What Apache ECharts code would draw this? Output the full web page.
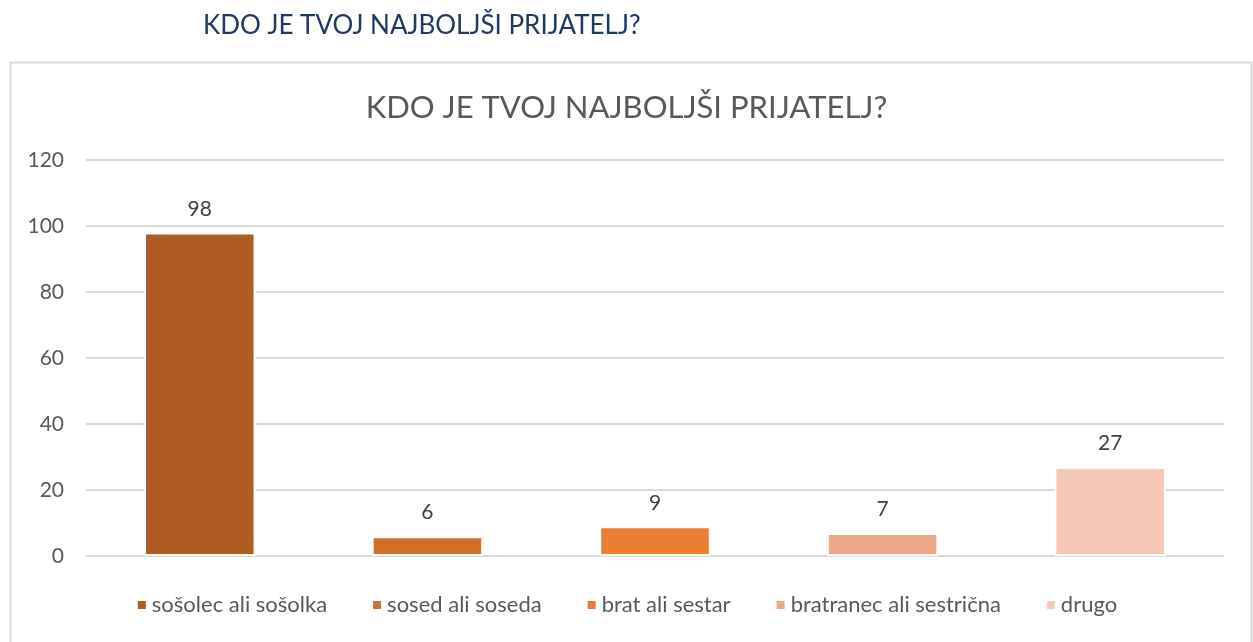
<!DOCTYPE html>
<html>
<head>
<meta charset="utf-8">
<script src="https://cdn.jsdelivr.net/npm/echarts@6/dist/echarts.min.js"></script>
<style>
  html, body { margin: 0; padding: 0; background: #fff; }
  #chart { width: 1253px; height: 642px; }
</style>
</head>
<body>
<div id="chart"></div>
<script>
// podatki
const categories = ['sošolec ali sošolka', 'sosed ali soseda', 'brat ali sestar', 'bratranec ali sestrična', 'drugo'];
const values = [98, 6, 9, 7, 27];
const yTicks = [0, 20, 40, 60, 80, 100, 120];

const colors = ['#B05B22', '#D26E2A', '#ED7D31', '#F1A78A', '#F5C8B8'];
const font = 'Lato, "Open Sans", sans-serif';

const chart = echarts.init(document.getElementById('chart'));

// vsaka kategorija je svoja serija, da jo kaže legenda
const series = categories.map((name, i) => ({
  name: name,
  type: 'bar',
  stack: 'all',
  barWidth: '49%',
  data: categories.map((c, j) => (j === i ? values[j] : null)),
  itemStyle: { color: colors[i], borderColor: '#fff', borderWidth: 2 },
  label: {
    show: true,
    position: 'top',
    distance: 13,
    color: '#404040',
    fontSize: 21,
    fontFamily: font
  }
}));

chart.setOption({
  animation: false,
  color: colors,
  title: [{
    text: 'KDO JE TVOJ NAJBOLJŠI PRIJATELJ?',
    left: 198,
    top: 8,
    textStyle: { color: '#1F3864', fontSize: 26, fontWeight: 'normal', fontFamily: font }
  }, {
    text: 'KDO JE TVOJ NAJBOLJŠI PRIJATELJ?',
    left: 'center',
    top: 87,
    textStyle: { color: '#595959', fontSize: 31, fontWeight: 'normal', fontFamily: font }
  }],
  graphic: [{
    type: 'rect',
    shape: { x: 10.5, y: 62.5, width: 1241, height: 600 },
    style: { fill: 'none', stroke: '#D9D9D9', lineWidth: 2 },
    z: -1
  }],
  grid: { left: 86, right: 29, top: 160, bottom: 86 },
  legend: {
    bottom: 21,
    left: 'center',
    itemWidth: 10,
    itemHeight: 10,
    itemGap: 44,
    icon: 'rect',
    textStyle: { color: '#595959', fontSize: 22, fontFamily: font }
  },
  xAxis: {
    type: 'category',
    data: categories,
    axisLine: { show: false },
    axisTick: { show: false },
    axisLabel: { show: false }
  },
  yAxis: {
    type: 'value',
    min: yTicks[0],
    max: yTicks[yTicks.length - 1],
    interval: 20,
    axisLine: { show: false },
    axisTick: { show: false },
    axisLabel: { color: '#595959', fontSize: 21, fontFamily: font, margin: 22 },
    splitLine: { lineStyle: { color: '#D9D9D9', width: 2 } }
  },
  series: series
});
</script>
</body>
</html>
